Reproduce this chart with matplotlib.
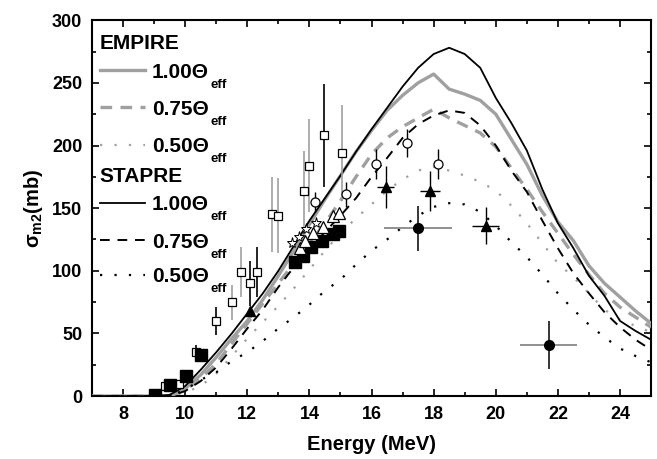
import numpy as np
import matplotlib
matplotlib.use("Agg")
import matplotlib.pyplot as plt

plt.rcParams['font.family'] = ['Liberation Sans', 'DejaVu Sans']
plt.rcParams['font.weight'] = 'bold'
plt.rcParams['mathtext.fontset'] = 'custom'
plt.rcParams['mathtext.rm'] = 'Liberation Sans:bold'
plt.rcParams['mathtext.bf'] = 'Liberation Sans:bold'
plt.rcParams['mathtext.it'] = 'Liberation Sans:bold:italic'

GREY = '#a0a0a0'

# ---- model curves (energy grid in MeV, cross section in mb) ----
energy = [7, 8, 9, 9.5, 10, 10.5, 11, 11.5, 12, 12.5, 13, 13.5, 14, 14.5, 15, 15.5,
          16, 16.5, 17, 17.5, 18, 18.5, 19, 19.5, 20, 20.5, 21, 21.5, 22, 22.5,
          23, 23.5, 24, 24.5, 25]

empire_100 = [0, 0, 0, 0.5, 6, 17, 31, 46, 60, 77, 96, 116, 137, 157, 176, 195,
              212, 228, 240, 250, 257, 245, 241, 236, 225, 205, 185, 160, 139, 124,
              104, 90, 79, 68, 58]
empire_075 = [0, 0, 0, 0, 5, 14, 26, 42, 58, 74, 90, 106, 122, 138, 156, 175,
              193, 206, 215, 222, 229, 222, 216, 210, 199, 182, 165, 147, 130, 113,
              97, 82, 71, 63, 55]
empire_050 = [0, 0, 0, 0, 3, 8, 18, 32, 46, 59, 72, 86, 101, 116, 130, 142,
              153, 164, 173, 180, 183, 180, 176, 171, 164, 152, 138, 122, 106, 95,
              82, 69, 61, 56, 51]
stapre_100 = [0, 0, 0, 1, 8, 21, 35, 50, 66, 82, 100, 120, 140, 158, 176, 195,
              213, 230, 247, 262, 273, 278, 273, 262, 238, 218, 196, 165, 138, 118,
              96, 80, 60, 52, 45]
stapre_075 = [0, 0, 0, 0, 4, 12, 23, 38, 54, 69, 87, 103, 117, 131, 144, 158,
              175, 190, 206, 217, 224, 228, 226, 216, 200, 180, 163, 140, 118, 98,
              82, 67, 55, 45, 37]
stapre_050 = [0, 0, 0, 0, 5, 13, 19, 28, 35, 44, 54, 63, 73, 84, 93, 105,
              116, 125, 135, 144, 151, 154, 153, 147, 136, 123, 111, 97, 82, 69,
              57, 47, 38, 32, 27]

# ---- experimental data ----
# open squares: E, sigma, dsigma, bar colour
osq_E = [9.35, 9.8, 10.35, 10.99, 11.5, 11.81, 12.08, 12.3, 12.79, 12.98, 13.82, 13.98, 14.46, 15.06]
osq_s = [8, 10, 35, 60, 75, 99, 90, 99, 145, 144, 164, 184, 208, 194]
osq_e = [0, 0, 6, 11, 14, 20, 18, 20, 30, 30, 32, 37, 41, 38]
osq_c = ['k', 'k', 'k', 'k', 'g', 'g', 'k', 'k', 'g', 'g', 'g', 'g', 'k', 'g']

# filled squares
fsq_E = [9.03, 9.5, 10.02, 10.5, 13.55, 13.8, 14.05, 14.4, 14.75, 14.95]
fsq_s = [1, 9, 16, 33, 107, 112, 119, 124, 129, 132]

# open circles
oc_E = [14.17, 15.17, 16.15, 17.14, 18.14]
oc_s = [155, 161, 185, 202, 185]
oc_e = [8, 10, 12, 11, 12]

# open triangles (cluster at 14 MeV)
ot_E = [13.7, 13.85, 14.1, 14.45, 14.75, 14.95]
ot_s = [118, 124, 130, 135, 144, 146]

# star markers (cluster at 14 MeV)
st_E = [13.45, 13.65, 13.9, 14.2]
st_s = [122, 127, 133, 138]

# filled triangles with E and sigma errors
ft_E = [12.1, 16.45, 17.89, 19.67]
ft_s = [68, 167, 164, 136]
ft_dE = [0, 0.27, 0.32, 0.42]
ft_ds = [0, 17, 16, 15]

# filled circles with E and sigma errors
fc_E = [17.5, 21.7]
fc_s = [134, 41]
fc_dE = [1.09, 0.93]
fc_ds = [18, 19]

fig = plt.figure(figsize=(6.57, 4.59), dpi=100)
ax = fig.add_axes([0.14, 0.137, 0.851, 0.819])

# curves
ax.plot(energy, empire_100, color=GREY, lw=2.4, zorder=3)
ax.plot(energy, empire_075, color=GREY, lw=2.4, ls=(0, (3.5, 2.5)), zorder=3)
ax.plot(energy, empire_050, color=GREY, lw=1.6, ls=(0, (1, 5.5)), zorder=3)
ax.plot(energy, stapre_100, color='k', lw=1.3, zorder=4)
ax.plot(energy, stapre_075, color='k', lw=1.4, ls=(0, (5, 4)), zorder=4)
ax.plot(energy, stapre_050, color='k', lw=1.6, ls=(0, (1, 5.5)), zorder=4)

# data
for E, s, e, c in zip(osq_E, osq_s, osq_e, osq_c):
    if e > 0:
        ax.errorbar(E, s, yerr=e, fmt='none', ecolor=GREY if c == 'g' else 'k',
                    elinewidth=1.2, zorder=5)
ax.plot(osq_E, osq_s, 's', ms=6, mfc='white', mec='k', mew=0.9, zorder=6)
ax.errorbar(oc_E, oc_s, yerr=oc_e, fmt='o', ms=6.5, mfc='white', mec='k', mew=0.9,
            ecolor='k', elinewidth=1.0, zorder=6)
ax.plot(fsq_E, fsq_s, 's', ms=8, color='k', zorder=6)
ax.plot(ot_E, ot_s, '^', ms=8, mfc='white', mec='k', mew=0.9, zorder=7)
ax.plot(st_E, st_s, '*', ms=8, mfc='white', mec='k', mew=0.7, zorder=7)
ax.errorbar(ft_E, ft_s, xerr=ft_dE, yerr=ft_ds, fmt='^', ms=7.5, color='k',
            ecolor='k', elinewidth=1.0, zorder=7)
ax.errorbar(fc_E, fc_s, yerr=fc_ds, fmt='o', ms=7, color='k', ecolor='k',
            elinewidth=1.1, zorder=7)
ax.errorbar(fc_E, fc_s, xerr=fc_dE, fmt='none', ecolor='#888888', elinewidth=1.3, zorder=6)

# legend drawn by hand
legend_rows = [
    ('EMPIRE', None),
    ('1.00', dict(color=GREY, lw=2.4)),
    ('0.75', dict(color=GREY, lw=2.4, ls=(0, (3.5, 2.5)))),
    ('0.50', dict(color=GREY, lw=1.6, ls=(0, (1, 5.5)))),
    ('STAPRE', None),
    ('1.00', dict(color='k', lw=1.3)),
    ('0.75', dict(color='k', lw=1.4, ls=(0, (5, 4)))),
    ('0.50', dict(color='k', lw=1.6, ls=(0, (1, 5.5)))),
]
row_y = [0.943, 0.867, 0.769, 0.669, 0.588, 0.515, 0.415, 0.323]
for (lab, style), y in zip(legend_rows, row_y):
    if style is None:
        ax.text(0.014, y - 0.019, lab, transform=ax.transAxes, fontsize=15,
                fontweight='bold', va='baseline', ha='left')
    else:
        ax.plot([0.014, 0.095], [y, y], transform=ax.transAxes, **style)
        t = ax.text(0.107, y - 0.02, lab + 'Θ', transform=ax.transAxes,
                    fontsize=15, fontweight='bold', va='baseline', ha='left')
        ax.annotate('eff', xy=(1, 0), xycoords=t, xytext=(1.5, -4.5),
                    textcoords='offset points', fontsize=9.5, fontweight='bold',
                    va='baseline', ha='left')

ax.set_xlim(7, 25)
ax.set_ylim(0, 300)
ax.set_xticks([8, 10, 12, 14, 16, 18, 20, 22, 24])
ax.set_xticks(np.arange(7, 26, 1), minor=True)
ax.set_yticks([0, 50, 100, 150, 200, 250, 300])
ax.set_yticks(np.arange(0, 301, 25), minor=True)
ax.tick_params(which='both', direction='in', top=True, right=True, width=1.2)
ax.tick_params(which='major', length=5, labelsize=13, pad=7)
ax.tick_params(which='minor', length=3)
for sp in ax.spines.values():
    sp.set_linewidth(1.5)
for t in ax.get_xticklabels() + ax.get_yticklabels():
    t.set_fontweight('bold')

ax.set_xlabel('Energy (MeV)', fontsize=14.5, fontweight='bold', labelpad=9)
ax.set_ylabel('σ$_\\mathrm{m2}$(mb)', fontsize=14.5, fontweight='bold', labelpad=5)

plt.savefig('out.png', dpi=100)
